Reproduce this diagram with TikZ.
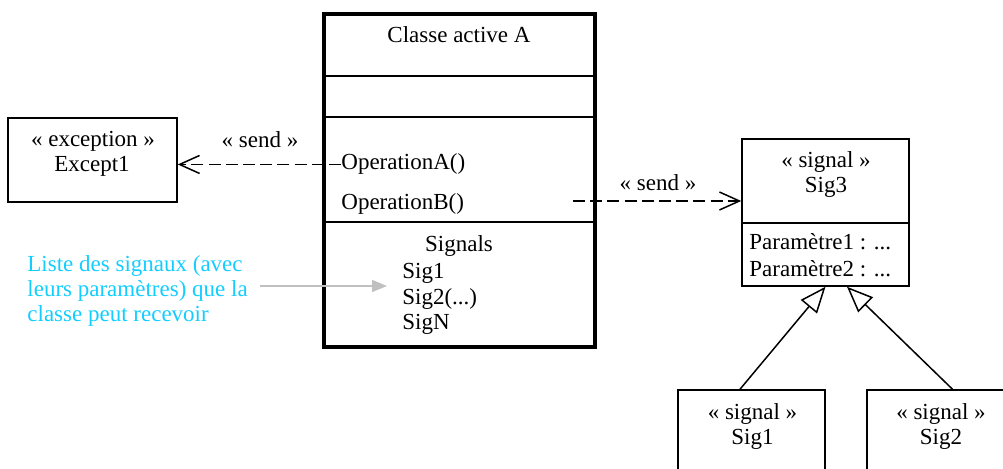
\documentclass[tikz,border=0pt]{standalone}
\usepackage{fontspec}
\setmainfont{Liberation Serif}
\usetikzlibrary{arrows.meta,fit,calc}
\definecolor{notecyan}{RGB}{20,205,255}
\definecolor{hintgray}{RGB}{192,192,192}
\begin{document}
\begin{tikzpicture}[x=0.5pt,y=-0.5pt,
  every node/.style={inner sep=0pt, font=\fontsize{11.5}{13.5}\selectfont},
  umlbox/.style={draw, line width=0.75pt, inner sep=0pt},
  frame/.style={draw, line width=2pt, inner sep=0pt, line join=miter},
  sepline/.style={line width=0.8pt},
  senddep/.style={line width=0.75pt, dash pattern=on 6pt off 2.6pt,
    -{Straight Barb[length=10pt,width=9pt]}},
  inherit/.style={line width=0.75pt,
    -{Triangle[open,length=13pt,width=10.5pt,fill=white]}},
  hint/.style={draw=hintgray, line width=0.75pt,
    -{Triangle[length=7.5pt,width=6pt,fill=hintgray]}},
  note/.style={anchor=base west, text=notecyan}]

\useasboundingbox (0,0) rectangle (1003,469);
\clip (0,0) rectangle (1003,469);

% active class A
\node[frame, fit={(324,14)(595,347)}] (cls) {};
\draw[sepline] (cls.west |- 0,76)  -- (cls.east |- 0,76);
\draw[sepline] (cls.west |- 0,117) -- (cls.east |- 0,117);
\draw[sepline] (cls.west |- 0,222) -- (cls.east |- 0,222);
\node[anchor=base] (title) at (459,43) {Classe active A};
\node[anchor=base west] (opA) at (341,170) {OperationA()};
\node[anchor=base west] (opB) at (341,210) {OperationB()};
\node[anchor=base] (signals) at (459,252) {Signals};
\node[anchor=base west] (s1) at (402,279) {Sig1};
\node[anchor=base west] (s2) at (402,304.5) {Sig2(...)};
\node[anchor=base west] (sn) at (402,330) {SigN};

% exception
\node[umlbox, fit={(8,118)(177,202)}] (exc) {};
\node[anchor=base] (excst) at (93,147) {« exception »};
\node[anchor=base] (excname) at (92,171.5) {Except1};

% signal Sig3
\node[umlbox, fit={(742,139)(909,286)}] (sig3) {};
\draw[line width=0.75pt] (sig3.west |- 0,223) -- (sig3.east |- 0,223);
\node[anchor=base] (sig3st) at (826,168) {« signal »};
\node[anchor=base] (sig3name) at (826,193) {Sig3};
\node[anchor=base west] (par1) at (749,250) {Paramètre1 : ...};
\node[anchor=base west] (par2) at (749,277) {Paramètre2 : ...};

% signals Sig1 and Sig2
\node[umlbox, fit={(678,390)(825,500)}] (sig1) {};
\node[anchor=base] (sig1st) at (752.5,420) {« signal »};
\node[anchor=base] (sig1name) at (752.5,445) {Sig1};
\node[umlbox, fit={(867,390)(1014,500)}] (sig2) {};
\node[anchor=base] (sig2st) at (941,420) {« signal »};
\node[anchor=base] (sig2name) at (941,445) {Sig2};

% send dependencies
\draw[senddep] (opA.west) -- (opA.west -| exc.east);
\node[anchor=base] (sendA) at (260,148) {« send »};
\coordinate (opBout) at (573,201);
\draw[senddep] (opBout) -- (opBout -| sig3.west);
\node[anchor=base] (sendB) at (658,191) {« send »};

% generalizations
\draw[inherit] ($(sig1.north)+(-11.5,0)$) -- (sig3.south);
\draw[inherit] ($(sig2.north)+(12,0)$) -- ($(sig3.south)+(21.5,0)$);

% note on the signal list
\node[note] (note1) at (27,272) {Liste des signaux (avec};
\node[note] (note2) at (27,297) {leurs paramètres) que la};
\node[note] (note3) at (27,322) {classe peut recevoir};
\coordinate (hintstart) at (260,286);
\coordinate (hintend) at (387,286);
\draw[hint] (hintstart) -- (hintend);
\end{tikzpicture}
\end{document}
